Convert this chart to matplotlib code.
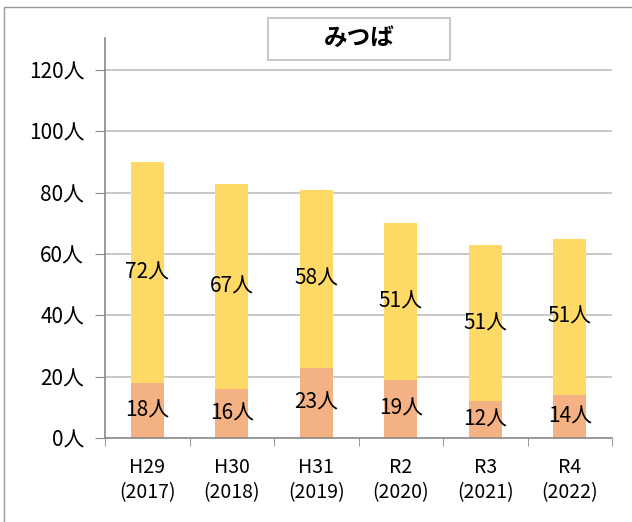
import matplotlib.pyplot as plt
import numpy as np
from matplotlib.patches import Rectangle

plt.rcParams['font.family'] = ['Noto Sans CJK JP', 'DejaVu Sans']

# Data
categories = ['H29\n(2017)', 'H30\n(2018)', 'H31\n(2019)', 'R2\n(2020)', 'R3\n(2021)', 'R4\n(2022)']
lower = [18, 16, 23, 19, 12, 14]
upper = [72, 67, 58, 51, 51, 51]
yticks = [0, 20, 40, 60, 80, 100, 120]

c_lower = '#F4B183'
c_upper = '#FFD966'
grid_c = '#BFBFBF'
axis_c = '#888888'

fig = plt.figure(figsize=(6.32, 5.22), dpi=100)
ax = fig.add_axes([105 / 632, 1 - 438 / 522, (612 - 105) / 632, (438 - 38) / 522])

x = np.arange(len(categories))
ax.bar(x, lower, width=0.39, color=c_lower, zorder=2)
ax.bar(x, upper, width=0.39, bottom=lower, color=c_upper, zorder=2)

for xi, lo, up in zip(x, lower, upper):
    ax.text(xi, lo / 2, f'{lo}人', ha='center', va='center', fontsize=15, zorder=3)
    ax.text(xi, lo + up / 2, f'{up}人', ha='center', va='center', fontsize=15, zorder=3)

ax.set_xlim(-0.5, len(categories) - 0.5)
ax.set_ylim(0, 130.5)
ax.set_yticks(yticks)
ax.set_yticklabels([f'{v}人' for v in yticks], fontsize=15)
ax.set_xticks(x)
ax.set_xticklabels(categories, fontsize=14, linespacing=1.25)
ax.tick_params(axis='x', length=0, pad=14)
ax.tick_params(axis='y', length=7, color=axis_c, pad=8)
ax.set_xticks(np.arange(-0.5, len(categories)), minor=True)
ax.tick_params(axis='x', which='minor', length=6, color=axis_c, direction='out')

for v in yticks[1:]:
    ax.axhline(v, color=grid_c, lw=1.2, zorder=1)

for s in ['top', 'right']:
    ax.spines[s].set_visible(False)
ax.spines['left'].set_color(axis_c)
ax.spines['bottom'].set_color(axis_c)
ax.spines['left'].set_linewidth(1.2)
ax.spines['bottom'].set_linewidth(1.2)

# title box
fig.patches.append(Rectangle((268 / 632, 1 - 60 / 522), 182 / 632, 42 / 522,
                             transform=fig.transFigure, fill=False,
                             edgecolor=grid_c, lw=1.2))
fig.text(359 / 632, 1 - 39 / 522, 'みつば', ha='center', va='center',
         fontsize=17, fontweight='bold')

# outer border
fig.patches.append(Rectangle((4 / 632, -0.05), 1.2, 1.05 - 7 / 522,
                             transform=fig.transFigure, fill=False,
                             edgecolor='#999999', lw=1))

fig.savefig('out.png', dpi=100)
